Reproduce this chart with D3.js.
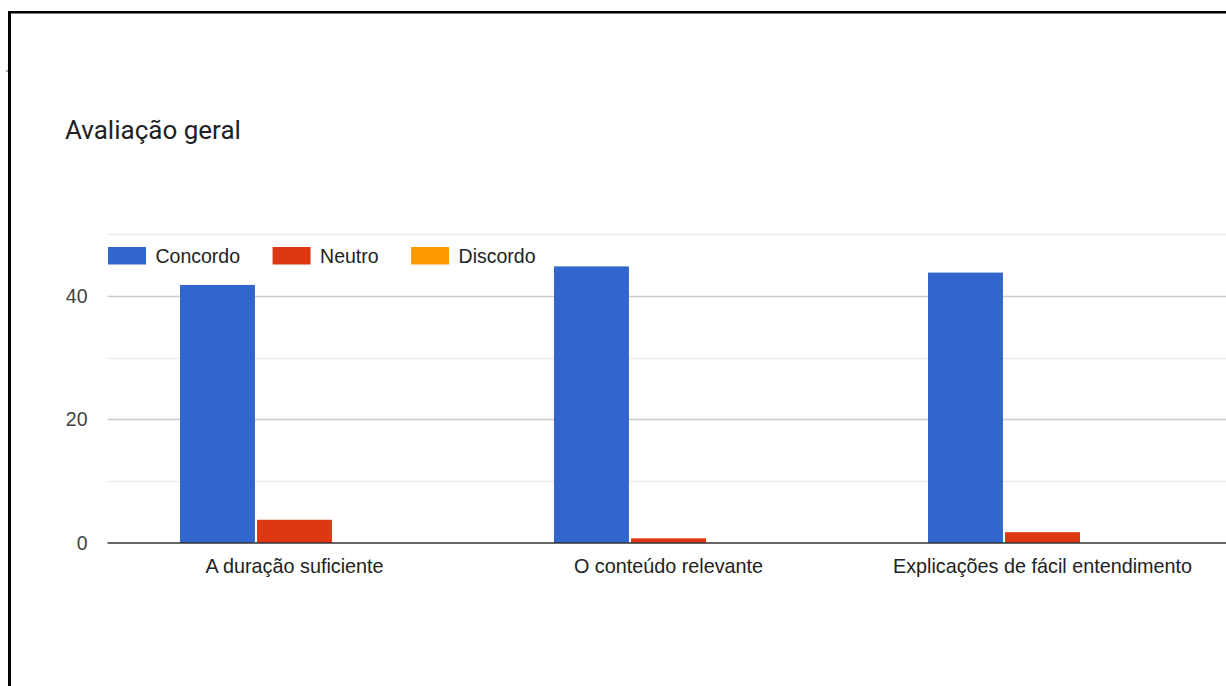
<!DOCTYPE html>
<html>
<head>
<meta charset="utf-8">
<script src="https://cdn.jsdelivr.net/npm/d3@7"></script>
<style>
  html, body { margin: 0; padding: 0; background: #fff; }
  svg { display: block; }
</style>
</head>
<body>
<svg id="chart" width="1226" height="686"></svg>
<script>
const title = "Avaliação geral";
const categories = ["A duração suficiente", "O conteúdo relevante", "Explicações de fácil entendimento"];
const seriesNames = ["Concordo", "Neutro", "Discordo"];
const seriesColors = ["#3366cc", "#dc3912", "#ff9900"];
const concordo = [42, 45, 44];
const neutro = [4, 1, 2];
const discordo = [0, 0, 0];
const seriesValues = [concordo, neutro, discordo];
const yTicks = [0, 20, 40];
const yMinorTicks = [10, 30, 50];

const svg = d3.select("#chart");
const W = 1226, H = 686;
const plot = { left: 107.5, right: 1229.5, top: 234, bottom: 543 };
const labelFont = "'Liberation Sans', Arial, sans-serif";

// frame
svg.append("line").attr("x1", 9.5).attr("x2", 9.5).attr("y1", 11).attr("y2", H)
  .attr("stroke", "#000").attr("stroke-width", 3);
svg.append("line").attr("x1", 8).attr("x2", W).attr("y1", 12.2).attr("y2", 12.2)
  .attr("stroke", "#000").attr("stroke-width", 2.6);
svg.append("line").attr("x1", 6).attr("x2", 8).attr("y1", 71).attr("y2", 71)
  .attr("stroke", "#555").attr("stroke-width", 1);

// title
svg.append("text").attr("x", 65).attr("y", 139)
  .attr("font-family", "Roboto, sans-serif").attr("font-size", 26)
  .attr("fill", "#202124").text(title);

const y = d3.scaleLinear().domain([0, 50]).range([plot.bottom, plot.top]);
const x0 = d3.scaleBand().domain(categories).range([plot.left, plot.right]).paddingInner(0).paddingOuter(0);
const bw = x0.bandwidth();
const groupW = 229;
const x1 = d3.scaleBand().domain(seriesNames)
  .range([bw / 2 - groupW / 2, bw / 2 + groupW / 2]).paddingInner(0.027).paddingOuter(0);

// minor gridlines
svg.append("g").selectAll("line").data(yMinorTicks).join("line")
  .attr("x1", plot.left).attr("x2", W)
  .attr("y1", d => Math.round(y(d)) + 0.5).attr("y2", d => Math.round(y(d)) + 0.5)
  .attr("stroke", "#ebebeb").attr("stroke-width", 1.5);

// major gridlines (excluding baseline)
svg.append("g").selectAll("line").data(yTicks.filter(d => d !== 0)).join("line")
  .attr("x1", plot.left).attr("x2", W)
  .attr("y1", d => Math.round(y(d)) + 0.5).attr("y2", d => Math.round(y(d)) + 0.5)
  .attr("stroke", "#cccccc").attr("stroke-width", 1.5);

// y axis labels via d3 axis
const yAxis = svg.append("g").attr("transform", `translate(${plot.left},0)`)
  .call(d3.axisLeft(y).tickValues(yTicks).tickSize(0).tickPadding(20).tickFormat(d3.format("d")));
yAxis.select(".domain").remove();
yAxis.selectAll("text").attr("font-family", labelFont).attr("font-size", 19.5).attr("fill", "#444");

// bars
const groups = svg.append("g").selectAll("g").data(categories).join("g")
  .attr("transform", d => `translate(${x0(d)},0)`);
groups.selectAll("rect")
  .data((c, ci) => seriesNames.map((s, si) => ({ s, si, v: seriesValues[si][ci] })))
  .join("rect")
  .attr("x", d => x1(d.s))
  .attr("width", x1.bandwidth())
  .attr("y", d => Math.min(y(0), y(d.v) + 1.5))
  .attr("height", d => Math.max(0, y(0) - y(d.v) - 1.5))
  .attr("fill", d => seriesColors[d.si]);

// baseline
svg.append("line").attr("x1", plot.left).attr("x2", W)
  .attr("y1", y(0)).attr("y2", y(0))
  .attr("stroke", "#333").attr("stroke-width", 1.6);

// x axis labels
const xAxis = svg.append("g").attr("transform", `translate(0,${plot.bottom})`)
  .call(d3.axisBottom(x0).tickSize(0).tickPadding(16));
xAxis.select(".domain").remove();
xAxis.selectAll("text").attr("font-family", labelFont).attr("font-size", 19.8).attr("fill", "#222");

// legend
const legend = svg.append("g");
let lx = 108;
seriesNames.forEach((name, i) => {
  legend.append("rect").attr("x", lx).attr("y", 247).attr("width", 38).attr("height", 17.5)
    .attr("fill", seriesColors[i]);
  const t = legend.append("text").attr("x", lx + 47.5).attr("y", 262.5)
    .attr("font-family", labelFont).attr("font-size", 19.5).attr("fill", "#222").text(name);
  lx = lx + 47.5 + t.node().getComputedTextLength() + 32.5;
});
</script>
</body>
</html>
